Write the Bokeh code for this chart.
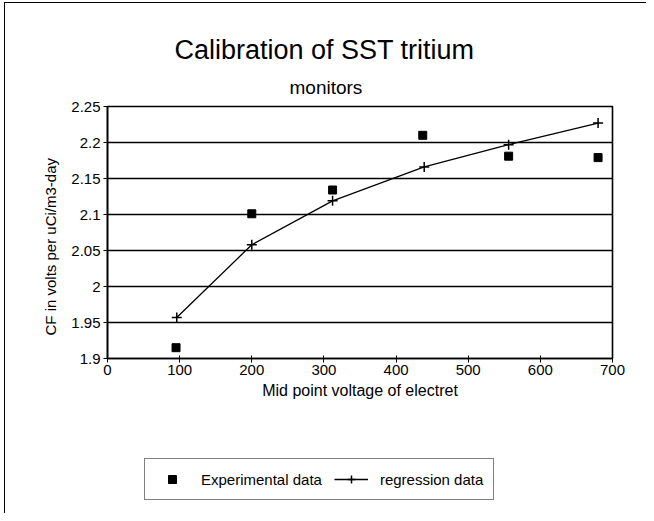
from bokeh.plotting import figure
from bokeh.models import (Range1d, FixedTicker, CustomJSTickFormatter, Title,
                          Legend, LegendItem)
from bokeh.layouts import column
from bokeh.embed import file_html
from bokeh.resources import INLINE

# ---- data ----
exp_x = [95, 200, 312, 437, 556, 680]
exp_y = [1.915, 2.101, 2.134, 2.210, 2.181, 2.179]
reg_x = [96, 200, 312, 439, 556, 680]
reg_y = [1.957, 2.058, 2.119, 2.166, 2.197, 2.227]
x_ticks = [0, 100, 200, 300, 400, 500, 600, 700]
y_ticks = [1.9, 1.95, 2.0, 2.05, 2.1, 2.15, 2.2, 2.25]
title_text = "Calibration of SST tritium"
subtitle_text = "monitors"
x_label = "Mid point voltage of electret"
y_label = "CF in volts per uCi/m3-day"
legend_labels = ["Experimental data", "regression data"]

FONT = "Liberation Sans"

# ---------------- main chart ----------------
p = figure(width=638, height=412, output_backend="svg", toolbar_location=None,
           x_range=Range1d(0, 700), y_range=Range1d(1.9, 2.25),
           min_border_left=107, min_border_right=26, min_border_top=106,
           min_border_bottom=54)

p.background_fill_color = "white"
p.border_fill_color = "white"
p.outline_line_color = "black"
p.outline_line_width = 1.6

for ax in (p.xaxis[0], p.yaxis[0]):
    ax.axis_line_color = "black"
    ax.axis_line_width = 1.6
    ax.major_tick_line_color = "black"
    ax.major_tick_line_width = 1
    ax.major_tick_in = 3
    ax.major_tick_out = 4
    ax.minor_tick_line_color = None
    ax.major_label_text_font = FONT
    ax.major_label_text_font_size = "15px"
    ax.major_label_text_color = "black"
    ax.axis_label_text_font = FONT
    ax.axis_label_text_font_size = "16px"
    ax.axis_label_text_font_style = "normal"
    ax.axis_label_text_color = "black"

p.xaxis.ticker = FixedTicker(ticks=x_ticks)
p.yaxis.ticker = FixedTicker(ticks=y_ticks)
p.yaxis.formatter = CustomJSTickFormatter(code="return String(Math.round(tick*100)/100);")
p.xaxis.axis_label = x_label
p.xaxis.major_label_standoff = 2
p.yaxis.major_label_standoff = 3
p.xaxis.axis_label_standoff = 4

# y-axis title as a side-panel title so it can sit a bit below centre
p.add_layout(Title(text=y_label, align="left", offset=23, standoff=19,
                   text_font=FONT, text_font_size="15px",
                   text_font_style="normal", text_color="black"), "left")

p.xgrid.grid_line_color = None
p.ygrid.grid_line_color = "black"
p.ygrid.grid_line_width = 1.5
p.ygrid.ticker = FixedTicker(ticks=y_ticks)

exp_r = p.scatter(exp_x, exp_y, marker="square", size=8, fill_color="black",
                  line_color="black")
reg_line = p.line(reg_x, reg_y, line_color="black", line_width=1.3)
reg_pts = p.scatter(reg_x, reg_y, marker="cross", size=10, line_color="black",
                    line_width=1.5)

# titles (first added sits closest to the frame)
p.add_layout(Title(text=subtitle_text, align="left", offset=182, standoff=17,
                   text_font=FONT, text_font_size="19px",
                   text_font_style="normal", text_color="black"), "above")
p.add_layout(Title(text=title_text, align="left", offset=67, standoff=4,
                   text_font=FONT, text_font_size="27px",
                   text_font_style="normal", text_color="black"), "above")

# ---------------- legend strip ----------------
p2 = figure(width=638, height=93, output_backend="svg", toolbar_location=None,
            x_axis_location=None, y_axis_location=None,
            x_range=Range1d(0, 1), y_range=Range1d(0, 1), min_border=0)
p2.outline_line_color = None
p2.xgrid.grid_line_color = None
p2.ygrid.grid_line_color = None
p2.background_fill_color = "white"
p2.border_fill_color = "white"

# legend-key renderers (their points fall outside this strip's ranges)
l_sq = p2.scatter(exp_x, exp_y, marker="square", size=8, fill_color="black",
                  line_color="black")
l_ln = p2.line(reg_x, reg_y, line_color="black", line_width=1.3)
l_cr = p2.scatter(reg_x, reg_y, marker="cross", size=10, line_color="black",
                  line_width=1.5)

legend = Legend(items=[LegendItem(label=legend_labels[0], renderers=[l_sq]),
                       LegendItem(label=legend_labels[1], renderers=[l_ln, l_cr])],
                orientation="horizontal", location=(37, 5))
legend.label_text_font = FONT
legend.label_text_font_size = "15px"
legend.label_text_color = "black"
legend.label_standoff = 12
legend.border_line_color = "black"
legend.border_line_width = 1
legend.glyph_width = 34
legend.spacing = 12
legend.padding = 10
legend.margin = 0
legend.background_fill_alpha = 1
p2.add_layout(legend, "center")

layout = column(p, p2, spacing=0)
layout.stylesheets = [":host { position: relative; } "
                      ":host::after { content: ''; position: absolute; left: 4px; top: 2px; "
                      "right: -8px; bottom: -8px; border-left: 1.5px solid black; "
                      "border-top: 1.5px solid black; pointer-events: none; z-index: 10; }"]

open("out.html", "w").write(file_html(layout, INLINE))
